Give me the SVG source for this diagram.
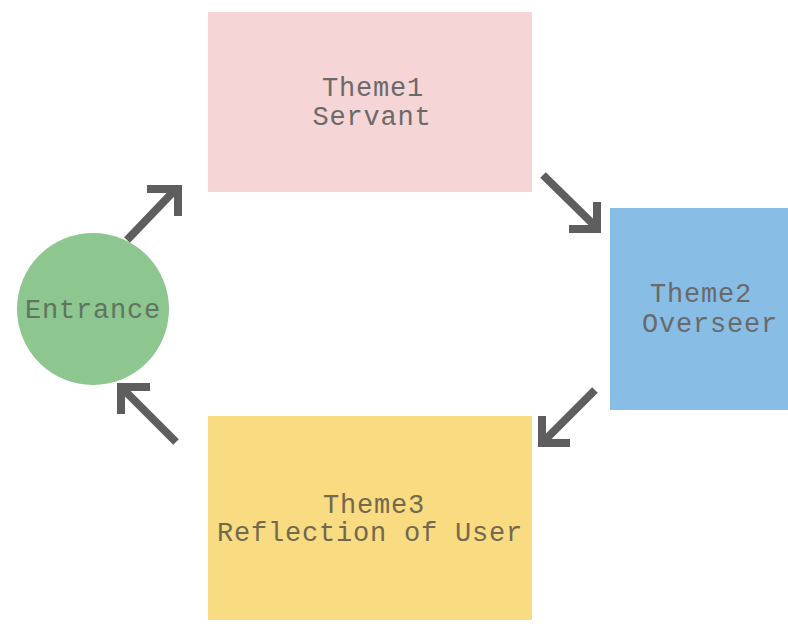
<svg xmlns="http://www.w3.org/2000/svg" width="788" height="624" viewBox="0 0 788 624">
<style>
.lbl{font-family:"Liberation Mono","DejaVu Sans Mono",monospace;font-size:27px;letter-spacing:0.8px;fill:#6a6a6a;text-anchor:middle}
.arr{fill:none;stroke:#5e5e5e;stroke-width:8;stroke-linejoin:miter;stroke-linecap:butt}
</style>
<rect width="788" height="624" fill="#ffffff"/>
<g id="theme1">
<rect x="208" y="12" width="324" height="180" fill="#f6d5d6"/>
<text class="lbl" x="373" y="96">Theme1</text>
<text class="lbl" x="372" y="125">Servant</text>
</g>
<g id="theme2">
<rect x="610" y="208" width="178" height="202" fill="#88bde6"/>
<text class="lbl" x="701" y="302">Theme2</text>
<text class="lbl" x="710" y="332">Overseer</text>
</g>
<g id="theme3">
<rect x="208" y="416" width="324" height="204" fill="#f9dc82"/>
<text class="lbl" x="374" y="513" style="fill:#72694f">Theme3</text>
<text class="lbl" x="370" y="541" style="fill:#72694f">Reflection of User</text>
</g>
<g id="entrance">
<circle cx="93" cy="309" r="76" fill="#8dc68f"/>
<text class="lbl" x="93" y="318" style="fill:#5f7561">Entrance</text>
</g>
<g id="connectors">
<path class="arr" d="M127,240 L175,190"/>
<path class="arr" d="M147,189 L178,189 L178,216"/>
<path class="arr" d="M543,175 L594,225"/>
<path class="arr" d="M597,202 L597,229 L569,229"/>
<path class="arr" d="M595,390 L545,440"/>
<path class="arr" d="M542,416 L542,443 L570,443"/>
<path class="arr" d="M176,442 L124,390"/>
<path class="arr" d="M150,387 L121,387 L121,414"/>
</g>
</svg>
